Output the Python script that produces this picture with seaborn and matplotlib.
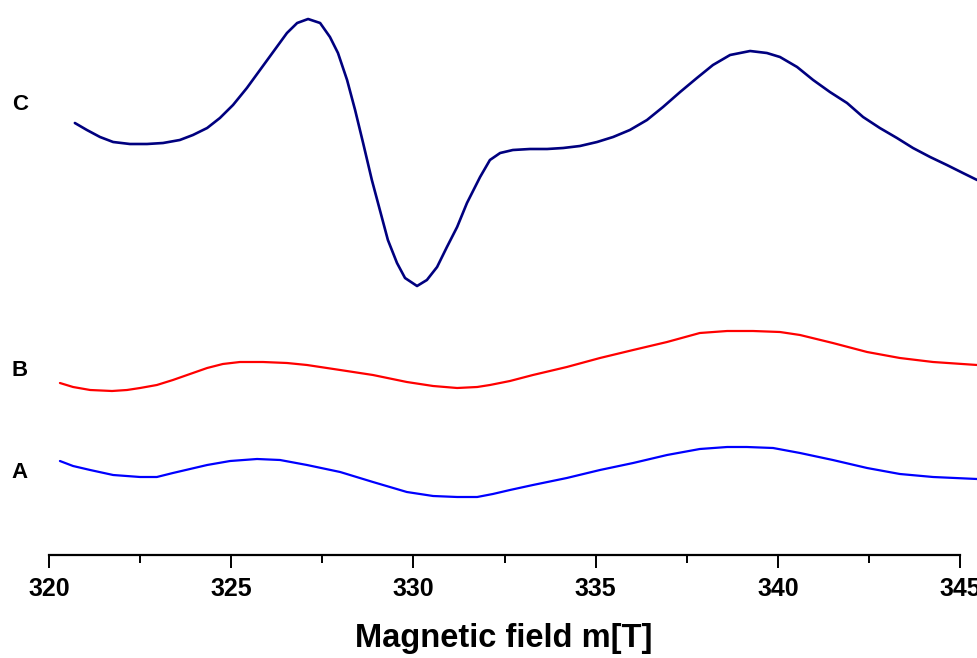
import numpy as np
import pandas as pd
import matplotlib
matplotlib.use("Agg")
import matplotlib.pyplot as plt
import seaborn as sns

# ---- data ----
field_C = [320.71, 321.04, 321.40, 321.76, 322.22, 322.69, 323.13, 323.59, 323.95, 324.34,
           324.69, 325.05, 325.43, 325.79, 326.15, 326.53, 326.81, 327.11, 327.44, 327.71,
           327.93, 328.18, 328.40, 328.62, 328.86, 329.08, 329.30, 329.55, 329.77, 330.10,
           330.37, 330.65, 330.92, 331.20, 331.47, 331.83, 332.10, 332.38, 332.73, 333.20,
           333.67, 334.11, 334.57, 335.04, 335.48, 335.94, 336.41, 336.85, 337.32, 337.78,
           338.22, 338.69, 339.24, 339.70, 340.06, 340.53, 340.97, 341.43, 341.90, 342.34,
           342.80, 343.27, 343.71, 344.18, 344.64, 345.08, 345.47]
signal_C = [432, 425, 418, 413, 411, 411, 412, 415, 420, 427,
            437, 450, 467, 485, 503, 522, 532, 536, 532, 518,
            502, 475, 445, 412, 375, 345, 315, 292, 277, 269,
            275, 288, 308, 328, 352, 378, 395, 402, 405, 406,
            406, 407, 409, 413, 418, 425, 435, 448, 463, 477,
            490, 500, 504, 502, 498, 488, 475, 463, 452, 438,
            427, 417, 407, 398, 390, 382, 375]

field_B = [320.30, 320.66, 321.13, 321.73, 322.14, 322.50, 322.96, 323.40, 323.87, 324.34,
           324.77, 325.24, 325.87, 326.53, 327.08, 327.99, 328.89, 329.82, 330.54, 331.20,
           331.75, 332.10, 332.65, 333.28, 334.21, 335.12, 336.03, 336.96, 337.86, 338.61,
           339.32, 340.06, 340.61, 341.51, 342.45, 343.35, 344.26, 345.47]
signal_B = [172, 168, 165, 164, 165, 167, 170, 175, 181, 187,
            191, 193, 193, 192, 190, 185, 180, 173, 169, 167,
            168, 170, 174, 180, 188, 197, 205, 213, 222, 224,
            224, 223, 220, 212, 203, 197, 193, 190]

field_A = [320.30, 320.66, 321.13, 321.76, 322.50, 322.96, 323.40, 323.87, 324.34, 324.97,
           325.71, 326.34, 327.08, 327.99, 328.89, 329.82, 330.54, 331.20, 331.75, 332.18,
           332.65, 333.28, 334.21, 335.12, 336.03, 336.96, 337.86, 338.61, 339.15, 339.87,
           340.61, 341.51, 342.45, 343.35, 344.26, 345.47]
signal_A = [94, 89, 85, 80, 78, 78, 82, 86, 90, 94,
            96, 95, 90, 83, 73, 63, 59, 58, 58, 61,
            65, 70, 77, 85, 92, 100, 106, 108, 108, 107,
            102, 95, 87, 81, 78, 76]

series_names = ["A", "B", "C"]
series_colors = {"A": "#0000FF", "B": "#FF0000", "C": "#00007F"}
tick_values = [320, 325, 330, 335, 340, 345]
minor_tick_values = [322.5, 327.5, 332.5, 337.5, 342.5]
x_label = "Magnetic field m[T]"

# ---- plotting ----
sns.set_style("white")
plt.rcParams["font.family"] = ["Liberation Sans", "DejaVu Sans"]
plt.rcParams["text.color"] = "black"
plt.rcParams["xtick.color"] = "black"
plt.rcParams["axes.labelcolor"] = "black"

fig = plt.figure(figsize=(9.77, 6.58), dpi=100)
ax = fig.add_axes([0.0, 103 / 658, 1.0, 555 / 658])

frames = {
    "A": pd.DataFrame({"field": field_A, "signal": signal_A}),
    "B": pd.DataFrame({"field": field_B, "signal": signal_B}),
    "C": pd.DataFrame({"field": field_C, "signal": signal_C}),
}
widths = {"A": 1.6, "B": 1.6, "C": 1.9}
for name in series_names:
    sns.lineplot(data=frames[name], x="field", y="signal", ax=ax, sort=False,
                 color=series_colors[name], linewidth=widths[name], estimator=None,
                 solid_joinstyle="round", solid_capstyle="round")

px_per_unit = 36.44
ax.set_xlim(320 - 49 / px_per_unit, 320 + 928 / px_per_unit)
ax.set_ylim(0, 555)

for s in ["top", "right", "left"]:
    ax.spines[s].set_visible(False)
ax.spines["bottom"].set_bounds(320, 345)
ax.spines["bottom"].set_linewidth(1.6)
ax.spines["bottom"].set_color("black")

ax.set_yticks([])
ax.set_xticks(tick_values)
ax.set_xticklabels([str(t) for t in tick_values], fontsize=18, fontweight="bold")
ax.set_xticks(minor_tick_values, minor=True)
ax.tick_params(axis="x", which="major", direction="out", length=9.5, width=1.4,
               color="black", pad=6, bottom=True)
ax.tick_params(axis="x", which="minor", direction="out", length=5.5, width=1.4,
               color="black", bottom=True)

ax.set_xlabel(x_label, fontsize=23.5, fontweight="bold")
ax.set_ylabel("")
ax.xaxis.set_label_coords(504 / 977, -0.122)
ax.xaxis.label.set_va("top")

label_y = {"A": 555 - 472, "B": 555 - 370, "C": 555 - 105}
for name in series_names:
    ax.text(320 - 29 / px_per_unit, label_y[name], name, fontsize=16, fontweight="bold",
            ha="center", va="center", color="black", clip_on=False)

fig.savefig("out.png", dpi=100, facecolor="white")
